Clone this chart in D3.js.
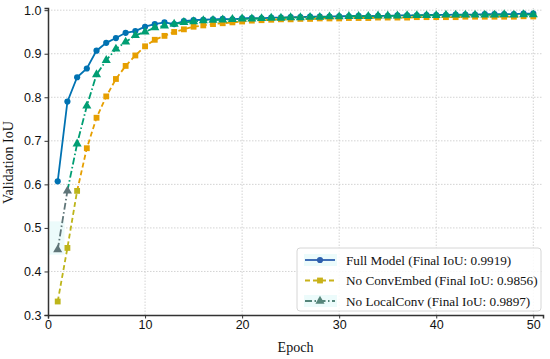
<!DOCTYPE html>
<html>
<head>
<meta charset="utf-8">
<script src="https://cdn.jsdelivr.net/npm/d3@7"></script>
<style>
  body { margin: 0; background: #fff; }
  svg { font-family: "Liberation Serif", "DejaVu Serif", serif; }
  .grid line { stroke: #c8c8c8; stroke-dasharray: 1.5,1.5; stroke-width: 0.8; }
  .axis text { font-size: 12.5px; fill: #111; }
</style>
</head>
<body>
<div id="chart"></div>
<script>
// Validation IoU per epoch
const epochs = d3.range(1, 51);

const fullModel = [0.607, 0.790, 0.846, 0.866, 0.907, 0.925, 0.936, 0.948, 0.952, 0.962,
  0.968, 0.972, 0.968, 0.975, 0.977, 0.978, 0.979, 0.980, 0.979, 0.981,
  0.982, 0.981, 0.983, 0.983, 0.984, 0.984, 0.985, 0.985, 0.985, 0.986,
  0.986, 0.987, 0.986, 0.987, 0.987, 0.988, 0.988, 0.988, 0.989, 0.989,
  0.989, 0.990, 0.990, 0.990, 0.991, 0.991, 0.991, 0.991, 0.992, 0.9919];

const noConvEmbed = [0.331, 0.454, 0.585, 0.683, 0.753, 0.802, 0.842, 0.872, 0.896, 0.917,
  0.932, 0.941, 0.950, 0.956, 0.962, 0.965, 0.968, 0.970, 0.972, 0.974,
  0.976, 0.977, 0.978, 0.979, 0.979, 0.980, 0.980, 0.981, 0.981, 0.981,
  0.982, 0.982, 0.982, 0.983, 0.983, 0.983, 0.983, 0.984, 0.984, 0.984,
  0.984, 0.984, 0.985, 0.985, 0.985, 0.985, 0.985, 0.985, 0.986, 0.9856];

const noLocalConv = [0.450, 0.585, 0.693, 0.780, 0.852, 0.885, 0.911, 0.927, 0.942, 0.950,
  0.960, 0.964, 0.968, 0.972, 0.974, 0.976, 0.977, 0.978, 0.979, 0.980,
  0.980, 0.981, 0.982, 0.982, 0.983, 0.983, 0.984, 0.984, 0.985, 0.985,
  0.986, 0.986, 0.986, 0.987, 0.987, 0.987, 0.988, 0.988, 0.988, 0.988,
  0.989, 0.989, 0.989, 0.989, 0.989, 0.989, 0.990, 0.989, 0.990, 0.9897];

const labels = ["Full Model (Final IoU: 0.9919)", "No ConvEmbed (Final IoU: 0.9856)", "No LocalConv (Final IoU: 0.9897)"];
const xTicks = [0, 10, 20, 30, 40, 50];
const yTicks = [0.3, 0.4, 0.5, 0.6, 0.7, 0.8, 0.9, 1.0];

const series = [
  { name: labels[0], values: fullModel, color: "#0072b2", legendColor: "#2d5fae", dash: null, marker: "circle", tint: null },
  { name: labels[1], values: noConvEmbed, color: "#e69f00", legendColor: "#c9b21a", dash: "5,3", marker: "square", tint: { upTo: 3, color: "#bdb51a" } },
  { name: labels[2], values: noLocalConv, color: "#009e73", legendColor: "#55857a", dash: "7,2.5,1.5,2.5", marker: "triangle", tint: { upTo: 2, color: "#5f7578" } }
];

const W = 550, H = 359;
const margin = { top: 8, right: 7, bottom: 44, left: 48 };

const svg = d3.select("#chart").append("svg")
  .attr("width", W).attr("height", H);

const x = d3.scaleLinear().domain([0, 51]).range([margin.left, W - margin.right]);
const y = d3.scaleLinear().domain([0.3, 1.005]).range([H - margin.bottom, margin.top]);

// grid
svg.append("g").attr("class", "grid")
  .selectAll("line.v").data(xTicks.slice(1)).enter().append("line")
  .attr("x1", d => x(d)).attr("x2", d => x(d))
  .attr("y1", y.range()[0]).attr("y2", y.range()[1]);
svg.append("g").attr("class", "grid")
  .selectAll("line.h").data(yTicks.slice(1)).enter().append("line")
  .attr("x1", x.range()[0]).attr("x2", x.range()[1])
  .attr("y1", d => y(d)).attr("y2", d => y(d));

// odd tint patch behind first triangle
svg.append("rect")
  .attr("x", x(0)).attr("y", y(0.515))
  .attr("width", x(1.7) - x(0)).attr("height", y(0.45) - y(0.515) + 5)
  .attr("fill", "#ecfbfb");

// lines
const line = d3.line().x((d, i) => x(epochs[i])).y(d => y(d));

const symbols = {
  circle: d3.symbol().type(d3.symbolCircle).size(30),
  square: d3.symbol().type(d3.symbolSquare).size(34),
  triangle: d3.symbol().type(d3.symbolTriangle).size(36)
};

series.forEach(s => {
  const g = svg.append("g");
  const start = s.tint ? s.tint.upTo - 1 : 0;
  if (s.tint) {
    g.append("path")
      .datum(s.values.slice(0, s.tint.upTo))
      .attr("fill", "none")
      .attr("stroke", s.tint.color)
      .attr("stroke-width", 1.8)
      .attr("stroke-dasharray", s.dash)
      .attr("d", line);
  }
  const rest = s.values.slice(start);
  g.append("path")
    .datum(rest)
    .attr("fill", "none")
    .attr("stroke", s.color)
    .attr("stroke-width", 1.8)
    .attr("stroke-dasharray", s.dash)
    .attr("d", d3.line().x((d, i) => x(epochs[i + start])).y(d => y(d)));
  g.selectAll("path.m").data(s.values).enter().append("path")
    .attr("transform", (d, i) => `translate(${x(epochs[i])},${y(d)})`)
    .attr("d", symbols[s.marker])
    .attr("fill", (d, i) => s.tint && i < s.tint.upTo ? s.tint.color : s.color);
});

// axes
const xAxis = svg.append("g").attr("class", "axis")
  .attr("transform", `translate(0,${y(0.3)})`)
  .call(d3.axisBottom(x).tickValues(xTicks).tickSize(3.5).tickPadding(2));
const yAxis = svg.append("g").attr("class", "axis")
  .attr("transform", `translate(${x(0)},0)`)
  .call(d3.axisLeft(y).tickValues(yTicks).tickFormat(d3.format(".1f")).tickSize(3.5).tickPadding(3));
[xAxis, yAxis].forEach(a => {
  a.select(".domain").attr("stroke", "#333").attr("stroke-width", 1.5);
  a.selectAll(".tick line").attr("stroke", "#333").attr("stroke-width", 1);
});

svg.append("text")
  .attr("x", (x(0) + x(51)) / 2).attr("y", 352)
  .attr("text-anchor", "middle")
  .style("font-size", "14px").attr("fill", "#111")
  .text("Epoch");
svg.append("text")
  .attr("transform", `translate(13,${(y(0.3) + y(1.0)) / 2}) rotate(-90)`)
  .attr("text-anchor", "middle")
  .style("font-size", "14px").attr("fill", "#111")
  .text("Validation IoU");

// legend
const lg = svg.append("g").attr("transform", "translate(297,248)");
lg.append("rect")
  .attr("width", 244).attr("height", 63).attr("rx", 3)
  .attr("fill", "#fff").attr("fill-opacity", 0.85)
  .attr("stroke", "#d6d6d6").attr("stroke-width", 1);
series.forEach((s, i) => {
  const ly = 12 + i * 20.5;
  if (i !== 1) {
    lg.append("rect").attr("x", 7).attr("y", ly - 6).attr("width", 33).attr("height", 12)
      .attr("fill", "#ecfbfb");
  }
  lg.append("line")
    .attr("x1", 8).attr("x2", 38).attr("y1", ly).attr("y2", ly)
    .attr("stroke", s.legendColor).attr("stroke-width", 1.8)
    .attr("stroke-dasharray", s.dash);
  lg.append("path")
    .attr("transform", `translate(23,${ly})`)
    .attr("d", symbols[s.marker])
    .attr("fill", s.legendColor);
  lg.append("text")
    .attr("x", 49).attr("y", ly + 4.5)
    .style("font-size", "13.2px").attr("fill", "#111")
    .text(s.name);
});
</script>
</body>
</html>
